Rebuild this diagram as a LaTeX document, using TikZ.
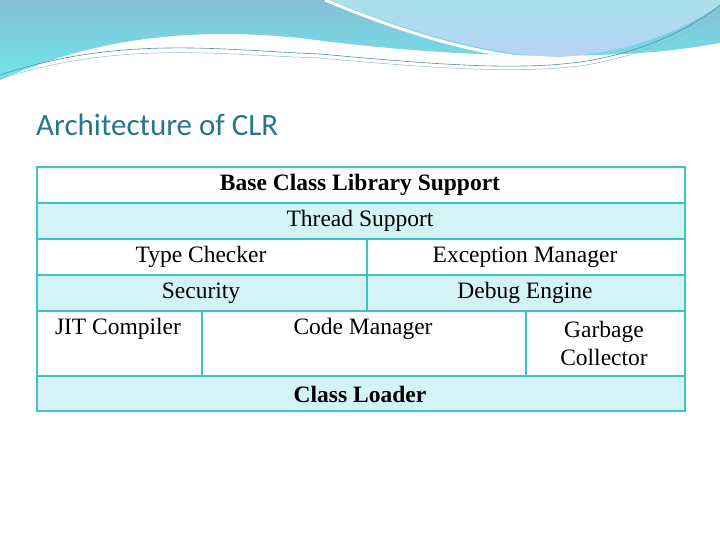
\documentclass[tikz,border=0pt]{standalone}
\usepackage{fontspec}
\setmainfont{Liberation Serif}
\newfontfamily\titlefont{Carlito}
\begin{document}
\begin{tikzpicture}[x=1pt,y=-1pt,
  cell/.style={draw=bordc,line width=1.6pt},
  lbl/.style={font=\fontsize{23.5}{27}\selectfont,text=black,anchor=center,inner sep=0pt},
  blbl/.style={lbl,font=\fontsize{23.5}{27}\selectfont\bfseries}]
\definecolor{bordc}{HTML}{3EC3CB}
\definecolor{lightc}{HTML}{D3F3F6}
\definecolor{waveA}{HTML}{86BFD6}
\definecolor{waveB}{HTML}{6FE6EC}
\definecolor{waveC}{HTML}{A9E1EA}
\definecolor{titlec}{HTML}{24778C}
\useasboundingbox (0,0) rectangle (720,540);
\fill[white] (0,0) rectangle (720,540);
% top decoration
\shade[top color=waveA,bottom color=waveB]
  (0,0) -- (720,0) -- (720,45) .. controls (600,62) and (450,58) .. (300,38)
  .. controls (200,28) and (100,35) .. (0,80) -- cycle;
\fill[white] (0,82) .. controls (100,38) and (200,32) .. (300,40)
  .. controls (450,60) and (600,65) .. (720,43) -- (720,53)
  .. controls (600,75) and (450,68) .. (300,48) .. controls (200,38) and (100,46) .. (0,88) -- cycle;
\shade[top color=waveC,bottom color=waveC!80!blue!60] (330,0) .. controls (400,28) and (480,55) .. (560,57)
  .. controls (640,52) and (690,25) .. (720,5) -- (720,0) -- cycle;
\draw[white,line width=3pt] (325,0) .. controls (400,31) and (480,58) .. (560,60);
\draw[titlec!80,line width=0.6pt] (0,75) .. controls (120,35) and (220,50) .. (320,54)
  .. controls (450,66) and (520,70) .. (580,62) .. controls (650,52) and (700,22) .. (720,5);
\draw[titlec!50,line width=0.5pt] (0,79) .. controls (120,40) and (220,55) .. (320,58)
  .. controls (450,70) and (520,73) .. (580,66) .. controls (650,55) and (700,28) .. (720,12);
% title
\node[anchor=base west,inner sep=0pt,font=\titlefont\fontsize{31}{36}\selectfont,text=titlec] (title) at (36,136) {Architecture of CLR};
% table
\path[fill=lightc] (36,202) rectangle (684,238) (36,274) rectangle (684,310) (36,375) rectangle (684,410);
\node[cell,minimum width=648,minimum height=36,inner sep=0pt,anchor=north west] (r1) at (36,166) {};
\node[cell,minimum width=648,minimum height=36,inner sep=0pt,anchor=north west] (r2) at (36,202) {};
\node[cell,minimum width=330,minimum height=36,inner sep=0pt,anchor=north west] (tc) at (36,238) {};
\node[cell,minimum width=318,minimum height=36,inner sep=0pt,anchor=north west] (em) at (366,238) {};
\node[cell,minimum width=330,minimum height=36,inner sep=0pt,anchor=north west] (se) at (36,274) {};
\node[cell,minimum width=318,minimum height=36,inner sep=0pt,anchor=north west] (de) at (366,274) {};
\node[cell,minimum width=165,minimum height=65,inner sep=0pt,anchor=north west] (jit) at (36,310) {};
\node[cell,minimum width=324,minimum height=65,inner sep=0pt,anchor=north west] (cm) at (201,310) {};
\node[cell,minimum width=159,minimum height=65,inner sep=0pt,anchor=north west] (gc) at (525,310) {};
\node[cell,minimum width=648,minimum height=35,inner sep=0pt,anchor=north west] (cl) at (36,375) {};
\node[blbl] (t1) at (360,185) {Base Class Library Support};
\node[lbl] (t2) at (360,221) {Thread Support};
\node[lbl] (t3) at (201,257) {Type Checker};
\node[lbl] (t4) at (525,257) {Exception Manager};
\node[lbl] (t5) at (201,293) {Security};
\node[lbl] (t6) at (525,293) {Debug Engine};
\node[lbl] (t7) at (118,329) {JIT Compiler};
\node[lbl] (t8) at (363,329) {Code Manager};
\node[lbl,align=center] (t9) at (604,343) {Garbage\\[1pt]Collector};
\node[blbl] (t10) at (360,394) {Class Loader};
\end{tikzpicture}
\end{document}
